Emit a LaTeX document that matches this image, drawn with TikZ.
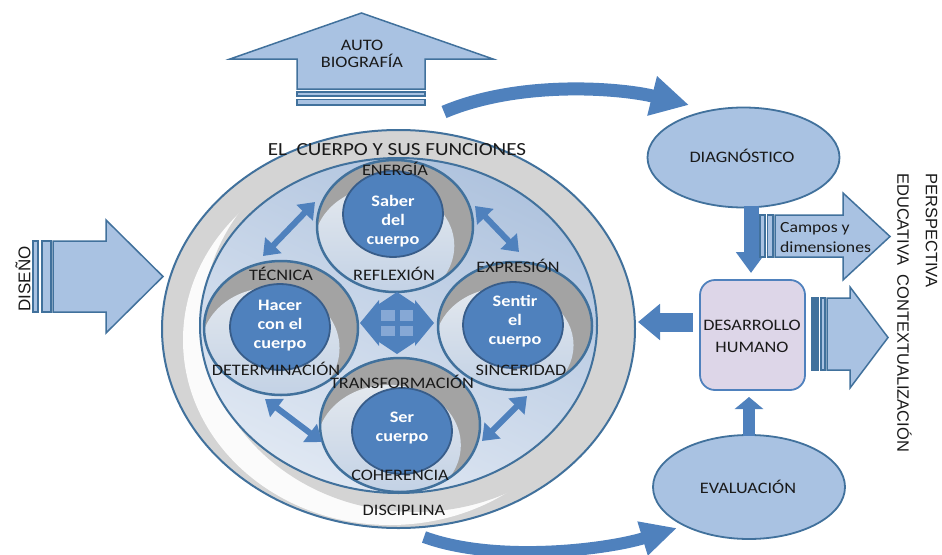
\documentclass[tikz,border=0pt]{standalone}
\usepackage{fontspec}
\setmainfont{Carlito}[FakeStretch=1.14]
\newfontfamily\persfont{Liberation Sans}
\usetikzlibrary{arrows.meta}
\definecolor{edgeblue}{HTML}{41719C}
\definecolor{solidblue}{HTML}{4F81BD}
\definecolor{darkedge}{HTML}{385D8A}
\definecolor{lightfill}{HTML}{A9C2E2}
\definecolor{lavender}{HTML}{DDD6E8}
\definecolor{ringgrey}{HTML}{D4D4D4}
\definecolor{midgrey}{HTML}{A3A3A3}
\definecolor{ringtop}{HTML}{E3E8EE}
\definecolor{ringbot}{HTML}{BFCFE4}
\definecolor{innertop}{HTML}{AFC3DE}
\definecolor{innerbot}{HTML}{E0E8F3}
\definecolor{panefill}{HTML}{86A8D5}
\definecolor{txt}{HTML}{1A1A1A}
\newcommand{\medring}[6]{%
  \begin{scope}
    \clip (#1,#2) ellipse [x radius=#3, y radius=#4];
    \fill[midgrey] (#1,#2) ellipse [x radius=#3, y radius=#4];
    \shade[top color=ringtop, bottom color=ringbot] (#1-0.14*#3,#2+0.3*#4) ellipse [x radius=0.9*#3, y radius=0.9*#4];
  \end{scope}
  \draw[edgeblue, line width=2.5pt] (#1,#2) ellipse [x radius=#3, y radius=#4];
  \fill[solidblue, draw=darkedge, line width=1.8pt] (#5,#6) ellipse [x radius=50, y radius=43];
}
\begin{document}
\begin{tikzpicture}[x=1pt,y=-1pt,
  blockarrow/.style={fill=lightfill, draw=edgeblue, line width=1.5pt, line join=miter},
  stripebar/.style={fill=lightfill, draw=edgeblue, line width=1.5pt},
  lbl/.style={font=\fontsize{16}{19}\selectfont, text=txt, inner sep=0pt, anchor=base},
  innertxt/.style={font=\bfseries\fontsize{16}{19}\selectfont, text=white, align=center, inner sep=0pt},
  dbl/.style={draw=solidblue, line width=6pt, {Triangle[length=15pt,width=22pt]}-{Triangle[length=15pt,width=22pt]}}
]
\useasboundingbox (0,0) rectangle (942,554);
\fill[white] (0,0) rectangle (942,554);

% ---- outer ellipse with swirl
\coordinate (outer) at (398.5,329);
\fill[ringgrey] (outer) ellipse [x radius=236.5, y radius=199];
\begin{scope}
  \clip (outer) ellipse [x radius=236.5, y radius=199];
  \fill[white!97!gray] (390,340) ellipse [x radius=207, y radius=185];
  \fill[ringgrey] (415,320) ellipse [x radius=212, y radius=192];
\end{scope}
\draw[edgeblue, line width=2pt] (outer) ellipse [x radius=236.5, y radius=199];

% ---- inner ellipse
\coordinate (innerell) at (398.5,325.5);
\shade[top color=innertop, bottom color=innerbot, shading angle=-25] (innerell) ellipse [x radius=198.5, y radius=167.5];
\draw[edgeblue, line width=2pt] (innerell) ellipse [x radius=198.5, y radius=167.5];

% ---- four rings
\medring{395}{226}{78}{66}{393}{214}
\medring{281}{328}{77}{67}{280}{327}
\medring{515}{326}{77}{64}{513}{325}
\medring{400}{425}{80}{67}{402}{431}

% ---- quad arrow
\begin{scope}[shift={(397,323)}]
  \fill[solidblue] (-18,-15) rectangle (18,15);
  \fill[solidblue] (-24,-15) -- (0,-31) -- (24,-15) -- cycle;
  \fill[solidblue] (-24,15) -- (0,31) -- (24,15) -- cycle;
  \fill[solidblue] (-18,-23) -- (-37,0) -- (-18,23) -- cycle;
  \fill[solidblue] (18,-23) -- (37,0) -- (18,23) -- cycle;
  \fill[panefill] (-16,-13) rectangle (-2.5,-2.5);
  \fill[panefill] (2.5,-13) rectangle (16,-2.5);
  \fill[panefill] (-16,2.5) rectangle (-2.5,13);
  \fill[panefill] (2.5,2.5) rectangle (16,13);
\end{scope}

% ---- double arrows
\coordinate (tl1) at (263,256); \coordinate (tl2) at (315,202);
\coordinate (tr1) at (475,206); \coordinate (tr2) at (519,252);
\coordinate (bl1) at (265,399); \coordinate (bl2) at (322,442);
\coordinate (br1) at (482,441); \coordinate (br2) at (527,396);
\draw[dbl] (tl1) -- (tl2);
\draw[dbl] (tr1) -- (tr2);
\draw[dbl] (bl1) -- (bl2);
\draw[dbl] (br1) -- (br2);

% ---- labels in the rings
\node[lbl, font=\fontsize{18.5}{21}\selectfont] (title) at (397,155) {EL~~CUERPO Y SUS FUNCIONES};
\node[lbl] (energia) at (395,175) {ENERGÍA};
\node[lbl] (reflexion) at (394,280) {REFLEXIÓN};
\node[lbl] (tecnica) at (281,280) {TÉCNICA};
\node[lbl] (expresion) at (518,272) {EXPRESIÓN};
\node[lbl] (determ) at (276,375) {DETERMINACIÓN};
\node[lbl] (since) at (521,375) {SINCERIDAD};
\node[lbl] (transf) at (402,388) {TRANSFORMACIÓN};
\node[lbl] (coher) at (400,480) {COHERENCIA};
\node[lbl] (disc) at (404,515) {DISCIPLINA};

\node[innertxt] (saber) at (393,221) {Saber\\del\\cuerpo};
\node[innertxt] (hacer) at (280,326) {Hacer\\con el\\cuerpo};
\node[innertxt] (sentir) at (515,321) {Sentir\\el\\cuerpo};
\node[innertxt] (ser) at (402,428) {Ser\\cuerpo};

% ---- DISEÑO arrow
\draw[stripebar] (33,241) rectangle (38,312);
\draw[stripebar] (42,241) rectangle (51,312);
\draw[blockarrow] (53,241) -- (106,241) -- (106,220) -- (163,276.5) -- (106,333) -- (106,312) -- (53,312) -- cycle;
\node[font=\persfont\fontsize{17}{20}\selectfont, rotate=90, inner sep=0pt, text=txt] (diseno) at (23,279) {DISEÑO};

% ---- AUTO BIOGRAFIA arrow
\draw[blockarrow] (297,89) -- (297,59) -- (230,59) -- (361.5,13) -- (493,59) -- (425,59) -- (425,89) -- cycle;
\draw[stripebar] (297,92) rectangle (425,96);
\draw[stripebar] (297,99.5) rectangle (425,105);
\node[font=\fontsize{16}{17}\selectfont, align=center, inner sep=0pt, text=txt] (auto) at (362,53.4) {AUTO\\BIOGRAFÍA};

% ---- right side nodes
\coordinate (diagc) at (743.5,157.5);
\fill[lightfill, draw=edgeblue, line width=1.8pt] (diagc) ellipse [x radius=96, y radius=50];
\node[lbl] (diag) at (742,162) {DIAGNÓSTICO};
\coordinate (evalc) at (749,487);
\fill[lightfill, draw=edgeblue, line width=1.8pt] (evalc) ellipse [x radius=96, y radius=52];
\node[lbl] (eval) at (748,493) {EVALUACIÓN};
\node[draw=solidblue, fill=lavender, line width=1.8pt, rounded corners=15pt, minimum width=105pt, minimum height=110pt, inner sep=0pt] (desbox) at (752.5,335) {};
\node[font=\fontsize{16}{22}\selectfont, align=center, inner sep=0pt, text=txt] (destxt) at (752,336) {DESARROLLO\\HUMANO};

% ---- small solid arrows
\coordinate (dn1) at (751,206); \coordinate (dn2) at (751,273);
\draw[solidblue, line width=15pt, -{Triangle[length=21pt,width=29pt]}] (dn1) -- (dn2);
\coordinate (up1) at (749,436); \coordinate (up2) at (749,397);
\draw[solidblue, line width=12pt, -{Triangle[length=12pt,width=28pt]}] (up1) -- (up2);
\coordinate (lf1) at (693,322); \coordinate (lf2) at (638,322);
\draw[solidblue, line width=19pt, -{Triangle[length=22pt,width=35pt]}] (lf1) -- (lf2);

% ---- curved arrows
\coordinate (ta1) at (444,112); \coordinate (ta2) at (689,105);
\draw[solidblue, line width=13pt, -{Triangle[length=38pt,width=38pt]}] (ta1) .. controls (520,80) and (620,88) .. (ta2);
\coordinate (ba1) at (424,537); \coordinate (ba2) at (677,528);
\draw[solidblue, line width=12pt, -{Triangle[length=36pt,width=33pt]}] (ba1) .. controls (495,563) and (605,550) .. (ba2);

% ---- Campos y dimensiones arrow
\draw[stripebar] (760,215) rectangle (765,257);
\draw[stripebar] (767.5,215) rectangle (773,257);
\draw[blockarrow] (775,215) -- (843,215) -- (843,193) -- (890,236.5) -- (843,280) -- (843,257) -- (775,257) -- cycle;
\node[font=\fontsize{15.5}{20}\selectfont, align=left, inner sep=0pt, anchor=west, text=txt] (campos) at (780,238) {Campos y\\dimensiones};

% ---- contextualizacion arrow
\draw[stripebar, fill=edgeblue] (812,298) rectangle (818.5,370);
\draw[stripebar] (821,298) rectangle (825,370);
\draw[blockarrow] (827,298) -- (850,298) -- (850,287) -- (888,337.5) -- (850,388) -- (850,370) -- (827,370) -- cycle;

% ---- perspective text
\node[font=\persfont\fontsize{16.5}{28.5}\selectfont, rotate=-90, align=left, inner sep=0pt, anchor=north west, text=txt] (persp) at (937.5,173) {PERSPECTIVA\\EDUCATIVA~~CONTEXTUALIZACIÓN};
\end{tikzpicture}
\end{document}
